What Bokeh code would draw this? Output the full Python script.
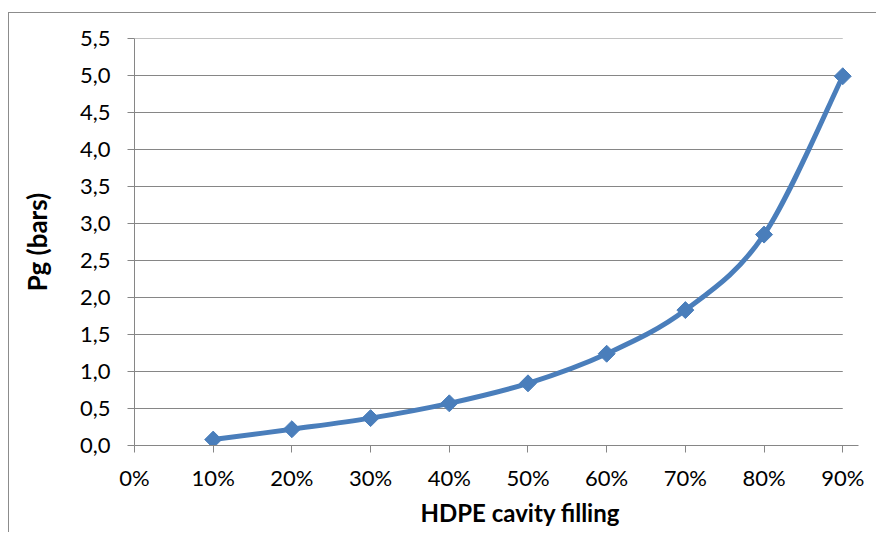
import numpy as np
from bokeh.plotting import figure
from bokeh.models import Range1d, FixedTicker, CustomJSTickFormatter, ColumnDataSource, Title
from bokeh.embed import file_html
from bokeh.resources import INLINE

# ---- data ----
filling = [0.1, 0.2, 0.3, 0.4, 0.5, 0.6, 0.7, 0.8, 0.9]
pg_bars = [0.08, 0.22, 0.37, 0.57, 0.84, 1.24, 1.83, 2.85, 4.99]
x_ticks = [0.0, 0.1, 0.2, 0.3, 0.4, 0.5, 0.6, 0.7, 0.8, 0.9]
y_ticks = [0.0, 0.5, 1.0, 1.5, 2.0, 2.5, 3.0, 3.5, 4.0, 4.5, 5.0, 5.5]
x_title = "HDPE cavity filling"
y_title = "Pg (bars)"

BLUE = "#4a7ebb"
GRID = "#868686"
FONT = "Lato"

p = figure(width=868, height=520, output_backend="svg", toolbar_location=None,
           x_range=Range1d(0, 0.92), y_range=Range1d(0, 5.5),
           min_border_left=125, min_border_right=19, min_border_top=25, min_border_bottom=88)
p.styles = {"margin-left": "8px", "margin-top": "12px",
            "border-left": "1px solid #8c8c8c", "border-top": "1px solid #8c8c8c"}
p.outline_line_color = None
p.xgrid.visible = False
p.ygrid.visible = False

# horizontal gridlines ending at last category
gx0 = [x_ticks[0]] * len(y_ticks)
gx1 = [x_ticks[-1]] * len(y_ticks)
p.segment(x0=gx0, y0=y_ticks, x1=gx1, y1=y_ticks, line_color=GRID, line_width=1, level="underlay")

# smooth (Catmull-Rom -> Bezier) line through the points
xs = np.array(filling); ys = np.array(pg_bars)
xp = np.concatenate([[xs[0]], xs, [xs[-1]]]); yp = np.concatenate([[ys[0]], ys, [ys[-1]]])
n = len(xs)
seg = dict(x0=[], y0=[], x1=[], y1=[], cx0=[], cy0=[], cx1=[], cy1=[])
for i in range(n - 1):
    j = i + 1
    seg["x0"].append(xp[j]); seg["y0"].append(yp[j])
    seg["x1"].append(xp[j + 1]); seg["y1"].append(yp[j + 1])
    seg["cx0"].append(xp[j] + (xp[j + 1] - xp[j - 1]) / 6); seg["cy0"].append(yp[j] + (yp[j + 1] - yp[j - 1]) / 6)
    seg["cx1"].append(xp[j + 1] - (xp[j + 2] - xp[j]) / 6); seg["cy1"].append(yp[j + 1] - (yp[j + 2] - yp[j]) / 6)
p.bezier(x0="x0", y0="y0", x1="x1", y1="y1", cx0="cx0", cy0="cy0", cx1="cx1", cy1="cy1",
         source=ColumnDataSource(seg), line_color=BLUE, line_width=5, line_cap="round")
p.scatter(x=filling, y=pg_bars, marker="square", angle=np.pi / 4, size=12,
          fill_color=BLUE, line_color=BLUE)

for ax in (p.xaxis[0], p.yaxis[0]):
    ax.axis_line_color = GRID
    ax.major_tick_line_color = GRID
    ax.minor_tick_line_color = None
    ax.major_tick_in = 0
    ax.major_tick_out = 7
    ax.major_label_text_font = FONT
    ax.major_label_text_font_size = "22px"
    ax.major_label_text_color = "black"
    ax.axis_label_text_font = FONT
    ax.axis_label_text_font_style = "bold"
    ax.axis_label_text_font_size = "26px"
    ax.axis_label_text_color = "black"

p.xaxis.ticker = FixedTicker(ticks=x_ticks)
p.yaxis.ticker = FixedTicker(ticks=y_ticks)
p.xaxis.formatter = CustomJSTickFormatter(code="return Math.round(tick*100) + '%';")
p.yaxis.formatter = CustomJSTickFormatter(code="return tick.toFixed(1).replace('.', ',');")
p.yaxis.axis_label = y_title
p.yaxis.major_label_standoff = 17
p.xaxis.major_label_standoff = 11
p.yaxis.axis_label_standoff = 24

xt = Title(text=x_title, align="left", offset=286, text_font=FONT, text_font_style="bold",
           text_font_size="24px", text_color="black", standoff=5)
p.add_layout(xt, "below")

open("out.html", "w").write(file_html(p, INLINE))
